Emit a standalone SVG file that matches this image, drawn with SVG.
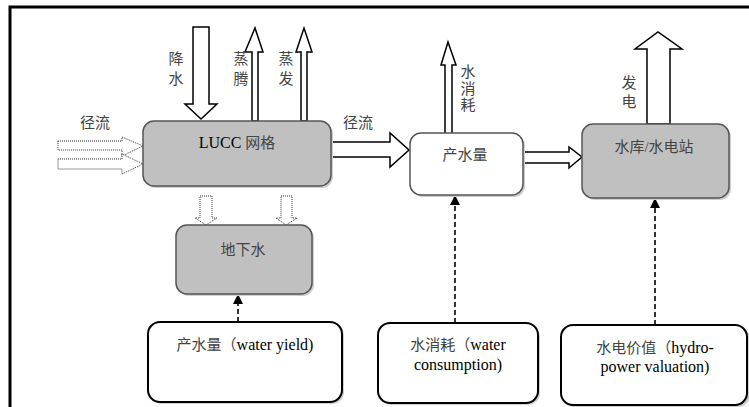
<svg xmlns="http://www.w3.org/2000/svg" width="749" height="407" viewBox="0 0 749 407">
<defs>
<style>
.t{font-family:"Liberation Serif","Noto Sans CJK SC",serif;font-size:15px;fill:#444;text-anchor:middle}
.en{fill:#000;font-size:16px}
.gbox{fill:#c0c0c0;stroke:#555;stroke-width:1.5}
.wbox{fill:#fff;stroke:#555;stroke-width:1.5}
.bbox{fill:#fff;stroke:#000;stroke-width:2}
.sh{fill:#cfcfcf}
.fat{fill:#fff;stroke:#000;stroke-width:1.5;stroke-linejoin:miter}
.dot{fill:#fff;stroke:#333;stroke-width:1;stroke-dasharray:1 1}
.dash{fill:none;stroke:#000;stroke-width:1.6;stroke-dasharray:5 3}
</style>
<marker id="ah" markerWidth="10" markerHeight="10" refX="9" refY="5" orient="auto" markerUnits="userSpaceOnUse">
<path d="M0,0 L10,5 L0,10 Z" fill="#000"/>
</marker>
</defs>
<rect width="749" height="407" fill="#fff"/>
<path d="M10,407 V7 H749" fill="none" stroke="#000" stroke-width="3"/>

<g id="connectors">
<polygon class="fat" points="193,27 209,27 209,104 217,104 201,119 185,104 193,104"/>
<polygon class="fat" points="252,121 252,52 245,52 255,28 263,52 258,52 258,121"/>
<polygon class="fat" points="301,121 301,52 296,52 304,28 312,52 307,52 307,121"/>
<polygon class="fat" points="445,135 445,65 441,65 448,42 456,65 452,65 452,135"/>
<polygon class="fat" points="647,124 647,49 635,49 658,32 682,49 670,49 670,124"/>
<polygon class="fat" points="331,142 390,142 390,133 409,150 390,167 390,157 331,157"/>
<polygon class="fat" points="524,152 569,152 569,147 582,157 569,168 569,163 524,163"/>
<polygon class="dot" points="58,141 122,141 122,137 143,146 122,156 122,150 58,150"/>
<polygon class="dot" points="58,159 122,159 122,154 143,164 122,174 122,169 58,169"/>
<polygon class="dot" points="200,196 212,196 212,218 217,218 206,225 195,218 200,218"/>
<polygon class="dot" points="281,196 292,196 292,218 297,218 286,225 276,218 281,218"/>
<line class="dash" x1="238" y1="322" x2="238" y2="295" marker-end="url(#ah)"/>
<line class="dash" x1="455" y1="323" x2="455" y2="196" marker-end="url(#ah)"/>
<line class="dash" x1="655" y1="325" x2="655" y2="199" marker-end="url(#ah)"/>
</g>

<g id="labels">
<text class="t" x="176" y="64">降</text><text class="t" x="176" y="84">水</text>
<text class="t" x="241" y="64">蒸</text><text class="t" x="241" y="84">腾</text>
<text class="t" x="286" y="64">蒸</text><text class="t" x="286" y="84">发</text>
<text class="t" x="95" y="128">径流</text>
<text class="t" x="358" y="128">径流</text>
<text class="t" x="468" y="77">水</text><text class="t" x="468" y="94">消</text><text class="t" x="468" y="110">耗</text>
<text class="t" x="629" y="88">发</text><text class="t" x="629" y="107">电</text>
</g>

<g id="lucc">
<rect class="sh" x="145" y="123" width="188" height="65" rx="11"/>
<rect class="gbox" x="143" y="121" width="188" height="65" rx="11"/>
<text class="t" x="237" y="148"><tspan class="en">LUCC</tspan> 网格</text>
</g>
<g id="chanshuiliang">
<rect class="sh" x="412" y="135" width="113" height="62" rx="11"/>
<rect class="wbox" x="410" y="133" width="113" height="62" rx="11"/>
<text class="t" x="465" y="160">产水量</text>
</g>
<g id="shuiku">
<rect class="sh" x="584" y="126" width="147" height="74" rx="11"/>
<rect class="gbox" x="582" y="124" width="147" height="74" rx="11"/>
<text class="t" x="654" y="152">水库/水电站</text>
</g>
<g id="dixiashui">
<rect class="sh" x="178" y="227" width="136" height="69" rx="11"/>
<rect class="gbox" x="176" y="225" width="136" height="69" rx="11"/>
<text class="t" x="243" y="255">地下水</text>
</g>
<g id="water-yield">
<rect class="sh" x="150" y="324" width="194" height="80" rx="12"/>
<rect class="bbox" x="148" y="322" width="194" height="80" rx="12"/>
<text class="t" x="245" y="350">产水量（<tspan class="en">water yield)</tspan></text>
</g>
<g id="water-consumption">
<rect class="sh" x="380" y="325" width="160" height="80" rx="12"/>
<rect class="bbox" x="378" y="323" width="160" height="80" rx="12"/>
<text class="t" x="458" y="350">水消耗（<tspan class="en">water</tspan></text>
<text class="t en" x="458" y="370">consumption)</text>
</g>
<g id="hydropower">
<rect class="sh" x="563" y="327" width="187" height="80" rx="12"/>
<rect class="bbox" x="561" y="325" width="186" height="80" rx="12"/>
<text class="t" x="655" y="353">水电价值（<tspan class="en">hydro-</tspan></text>
<text class="t en" x="655" y="372">power valuation)</text>
</g>
</svg>
